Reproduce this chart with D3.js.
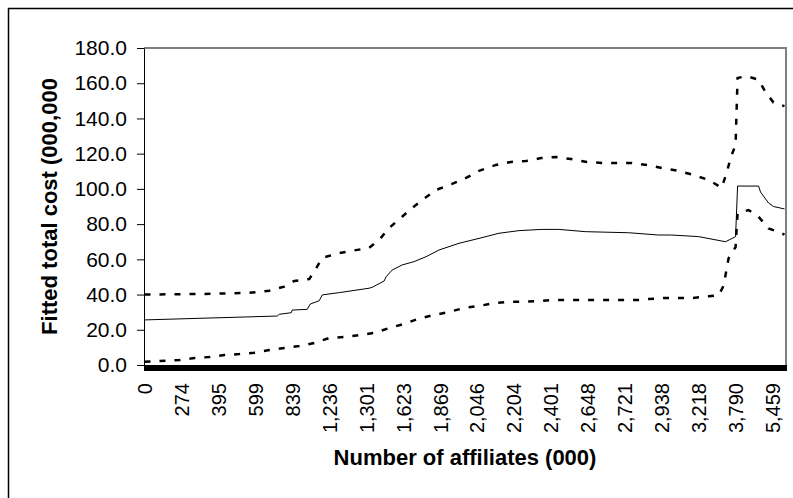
<!DOCTYPE html>
<html>
<head>
<meta charset="utf-8">
<script src="https://cdn.jsdelivr.net/npm/d3@7"></script>
<style>
  body { margin: 0; background: #fff; }
  svg text { font-family: Arial, "Liberation Sans", sans-serif; fill: #000; }
</style>
</head>
<body>
<div id="chart-area"></div>
<script>
const MARGIN = { LEFT: 144, RIGHT: 7, TOP: 48, BOTTOM: 133 }
const WIDTH = 793 - MARGIN.LEFT - MARGIN.RIGHT
const HEIGHT = 498 - MARGIN.TOP - MARGIN.BOTTOM

// number of observations on the category axis, label every LABEL_STEP
const N_OBS = 643
const LABEL_STEP = 37
const xLabels = ["0", "274", "395", "599", "839", "1,236", "1,301", "1,623", "1,869",
  "2,046", "2,204", "2,401", "2,648", "2,721", "2,938", "3,218", "3,790", "5,459"]

// fitted total cost (observation index, value)
const fittedIdx = [0, 133, 135, 147, 148, 163, 166, 175, 178, 195, 225, 228, 240, 242, 248, 258, 270, 282, 295,
  315, 335, 355, 375, 398, 415, 442, 485, 515, 528, 555, 582, 592, 594, 615, 617, 625, 630, 641]
const fittedVal = [25.6, 27.8, 28.8, 29.7, 31.2, 31.6, 34.6, 36.5, 39.8, 41.1, 43.6, 44.1, 47.7, 50.1, 53.9, 56.8, 58.7, 61.5, 65.3,
  69.1, 71.9, 74.8, 76.3, 77.0, 77.0, 75.7, 75.1, 73.8, 73.8, 72.9, 70.0, 72.9, 101.6, 101.6, 98.2, 92.0, 90.0, 88.6]

// upper bound
const upperIdx = [0, 55, 105, 125, 140, 150, 165, 172, 178, 195, 225, 235, 245, 260, 268, 278, 292, 308, 322, 335,
  352, 367, 382, 397, 412, 427, 443, 458, 488, 503, 518, 535, 550, 565, 578, 583, 587, 592, 594, 603, 615, 622, 630, 641]
const upperVal = [40.0, 40.3, 41.0, 42.2, 44.5, 47.7, 48.8, 55.0, 60.8, 63.6, 66.5, 71.0, 77.8, 85.2, 89.1, 93.7, 99.4, 102.8, 106.2, 110.2,
  113.6, 115.3, 115.8, 117.5, 118.1, 117.0, 115.3, 114.7, 114.7, 113.6, 111.9, 110.2, 107.9, 105.1, 100.6, 109.0, 117.5, 125.0, 163.0, 164.0, 162.0, 155.0, 149.0, 147.0]

// lower bound
const lowerIdx = [0, 35, 50, 65, 80, 95, 110, 125, 140, 155, 170, 185, 200, 215, 230, 245, 260, 275, 290, 305,
  320, 335, 350, 365, 395, 410, 495, 505, 520, 548, 565, 575, 580, 585, 592, 593, 594, 605, 615, 625, 638, 641]
const lowerVal = [1.9, 2.8, 4.0, 4.5, 5.7, 6.2, 7.0, 8.5, 9.7, 10.8, 12.5, 15.3, 15.9, 17.0, 18.2, 21.0, 23.3, 26.4, 28.4, 30.1,
  32.4, 33.5, 35.2, 35.8, 36.3, 36.9, 36.9, 37.5, 38.0, 38.0, 39.0, 39.5, 45.0, 60.6, 67.0, 77.0, 86.0, 88.0, 84.2, 77.6, 74.8, 74.0]

const yTicks = [0, 20, 40, 60, 80, 100, 120, 140, 160, 180]

const svg = d3.select("#chart-area").append("svg")
  .attr("width", 793)
  .attr("height", 498)

// outer chart border
svg.append("rect")
  .attr("x", 8.5).attr("y", 8.5)
  .attr("width", 900).attr("height", 600)
  .attr("fill", "none")
  .attr("stroke", "#000")
  .attr("stroke-width", 1.5)

const g = svg.append("g")
  .attr("transform", `translate(${MARGIN.LEFT},${MARGIN.TOP})`)

const x = d3.scaleLinear().domain([0, N_OBS]).range([0, WIDTH])
const y = d3.scaleLinear().domain([0, 180]).range([HEIGHT, 0])

// plot area border (gray, top + right)
g.append("path")
  .attr("d", `M0,0H${WIDTH}V${HEIGHT}`)
  .attr("fill", "none")
  .attr("stroke", "#808080")
  .attr("stroke-width", 2)

// Y axis
const yAxis = g.append("g")
  .call(d3.axisLeft(y).tickValues(yTicks).tickSize(7).tickSizeOuter(0).tickPadding(10).tickFormat(d3.format(".1f")))
yAxis.selectAll("text").style("font-size", "21px")
yAxis.select(".domain").attr("stroke", "#000")

// X axis: tick at every observation boundary
const xAxis = g.append("g")
  .attr("transform", `translate(0,${HEIGHT})`)
  .call(d3.axisBottom(x).tickValues(d3.range(N_OBS + 1)).tickSize(6).tickSizeOuter(0).tickFormat(""))
xAxis.selectAll(".tick line").attr("shape-rendering", "crispEdges")

// X labels every LABEL_STEP observations
const xLab = g.append("g")
  .attr("transform", `translate(0,${HEIGHT})`)
  .call(d3.axisBottom(x)
    .tickValues(xLabels.map((d, i) => i * LABEL_STEP + 0.5))
    .tickSize(0)
    .tickFormat((d, i) => xLabels[i]))
xLab.select(".domain").remove()
xLab.selectAll("text")
  .attr("y", 0)
  .attr("x", -18)
  .attr("dy", "0.35em")
  .attr("transform", "rotate(-90)")
  .style("text-anchor", "end")
  .style("font-size", "20px")

// Lines
const line = d3.line()
  .x(d => x(d[0] + 0.5))
  .y(d => y(d[1]))

const series = [
  { idx: upperIdx, val: upperVal, dash: "6,9", w: 2.5 },
  { idx: lowerIdx, val: lowerVal, dash: "6,9", w: 2.5 },
  { idx: fittedIdx, val: fittedVal, dash: null, w: 1 }
]

series.forEach(s => {
  g.append("path")
    .datum(s.idx.map((d, i) => [d, s.val[i]]))
    .attr("d", line)
    .attr("fill", "none")
    .attr("stroke", "#000")
    .attr("stroke-width", s.w)
    .attr("stroke-dasharray", s.dash)
})

// Axis titles
svg.append("text")
  .attr("x", MARGIN.LEFT + WIDTH / 2)
  .attr("y", 465)
  .attr("text-anchor", "middle")
  .style("font-size", "22px")
  .style("font-weight", "bold")
  .text("Number of affiliates (000)")

svg.append("text")
  .attr("transform", `translate(57,${MARGIN.TOP + HEIGHT / 2}) rotate(-90)`)
  .attr("text-anchor", "middle")
  .style("font-size", "22px")
  .style("font-weight", "bold")
  .text("Fitted total cost (000,000")
</script>
</body>
</html>
